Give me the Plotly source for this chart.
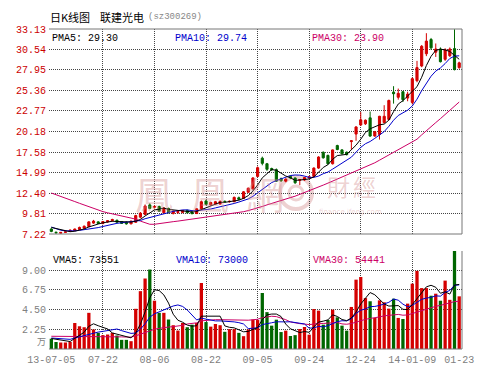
import plotly.graph_objects as go

W, H = 500, 369

# ---------------- data ----------------
tick_idx = [0, 11, 22, 33, 44, 55, 66, 77, 87]
tick_txt = ["13-07-05", "07-22", "08-06", "08-22", "09-05", "09-24", "12-24", "14-01-09", "01-23"]

price_ticks = [7.22, 9.81, 12.40, 14.99, 17.58, 20.18, 22.77, 25.36, 27.95, 30.54, 33.13]
vol_ticks = [2.25, 4.50, 6.75, 9.00]

opens = [7.85, 7.45, 7.32, 7.42, 7.55, 7.65, 7.80, 7.95, 8.15, 8.60,
         8.75, 8.55, 8.75, 8.90, 8.95, 8.80, 8.70, 8.50, 8.70, 9.35,
         9.70, 10.90, 10.60, 10.70, 9.90, 10.45, 9.80, 9.95, 9.95, 10.20,
         10.00, 9.80, 10.40, 11.40, 10.90, 11.00, 11.00, 11.35, 11.30, 11.30,
         11.80, 11.70, 12.50, 12.90, 14.50, 16.80, 16.10, 15.50, 15.35, 14.20,
         13.90, 14.50, 14.30, 14.00, 14.05, 14.30, 14.50, 15.55, 17.55, 17.15,
         16.10, 18.40, 17.85, 17.55, 18.90, 19.85, 21.00, 21.15, 21.90, 19.60,
         19.80, 21.30, 21.70, 25.15, 24.50, 25.20, 24.40, 23.85, 26.60, 28.45,
         30.00, 31.80, 30.20, 30.60, 29.30, 29.75, 30.65, 28.25]
highs = [7.95, 7.50, 7.45, 7.55, 7.80, 7.90, 8.15, 8.30, 8.85, 9.00,
         8.85, 8.85, 8.95, 9.15, 9.05, 8.85, 8.80, 8.90, 9.65, 10.00,
         10.95, 11.10, 10.85, 10.80, 10.60, 10.55, 10.15, 10.10, 10.25, 10.30,
         10.15, 10.50, 11.45, 11.55, 11.30, 11.40, 11.45, 11.45, 11.45, 11.95,
         11.95, 12.65, 13.10, 14.40, 15.75, 17.00, 16.20, 15.60, 15.50, 14.35,
         14.25, 14.60, 14.35, 14.15, 14.45, 14.50, 15.65, 17.05, 17.65, 17.25,
         17.90, 18.50, 17.95, 17.65, 19.10, 20.85, 22.65, 21.70, 22.70, 20.25,
         22.15, 23.50, 24.20, 25.90, 25.60, 25.30, 25.20, 27.00, 29.10, 31.10,
         32.60, 32.00, 31.30, 30.80, 30.70, 30.80, 33.10, 29.00]
lows = [7.45, 7.25, 7.28, 7.38, 7.50, 7.60, 7.75, 7.90, 8.10, 8.50,
        8.50, 8.45, 8.65, 8.80, 8.65, 8.50, 8.40, 8.45, 8.65, 9.20,
        9.60, 10.35, 10.45, 10.00, 9.80, 9.85, 9.70, 9.75, 9.85, 9.85,
        9.70, 9.75, 10.30, 10.85, 10.80, 10.95, 10.95, 11.25, 11.20, 11.25,
        11.50, 11.65, 12.40, 12.85, 14.40, 15.90, 15.20, 15.20, 13.80, 13.80,
        13.75, 14.20, 13.55, 13.40, 13.95, 14.20, 14.40, 15.45, 16.75, 16.00,
        16.00, 17.80, 17.30, 17.15, 17.85, 19.00, 20.90, 21.00, 19.50, 19.50,
        19.15, 21.20, 21.60, 23.70, 24.20, 23.90, 24.00, 23.60, 26.40, 28.30,
        29.70, 30.50, 29.60, 28.90, 29.10, 29.60, 27.90, 28.10]
closes = [7.55, 7.38, 7.42, 7.50, 7.70, 7.85, 8.05, 8.20, 8.75, 8.85,
          8.55, 8.80, 8.90, 9.05, 8.70, 8.55, 8.50, 8.85, 9.55, 9.85,
          10.75, 10.45, 10.70, 10.10, 10.50, 9.90, 10.10, 10.05, 10.20, 9.90,
          9.80, 10.40, 11.30, 10.95, 11.20, 11.30, 11.35, 11.30, 11.35, 11.85,
          11.60, 12.55, 13.00, 14.30, 15.60, 16.15, 15.40, 15.35, 13.90, 13.95,
          14.15, 14.30, 13.70, 14.10, 14.35, 14.45, 15.55, 16.95, 16.85, 16.10,
          17.85, 17.90, 17.35, 17.25, 19.00, 20.75, 21.65, 21.60, 19.60, 20.15,
          22.10, 22.10, 24.10, 24.95, 25.00, 24.20, 24.90, 26.85, 28.25, 30.95,
          31.60, 30.75, 30.60, 29.00, 30.50, 30.60, 28.00, 28.85]

pma5 = [8.05, 7.90, 7.75, 7.60, 7.51, 7.57, 7.70, 7.86, 8.11, 8.34,
        8.48, 8.63, 8.77, 8.83, 8.80, 8.80, 8.74, 8.73, 8.83, 9.06,
        9.50, 9.89, 10.26, 10.37, 10.50, 10.33, 10.26, 10.13, 10.15, 10.03,
        10.01, 10.07, 10.32, 10.47, 10.73, 11.03, 11.22, 11.22, 11.30, 11.43,
        11.49, 11.73, 12.07, 12.66, 13.41, 14.32, 14.89, 15.36, 15.28, 14.95,
        14.55, 14.33, 14.00, 14.04, 14.12, 14.18, 14.43, 15.08, 15.63, 15.98,
        16.66, 17.13, 17.21, 17.29, 17.87, 18.45, 19.20, 20.05, 20.52, 20.75,
        21.02, 21.11, 21.61, 22.68, 23.65, 24.07, 24.63, 25.18, 25.84, 27.03,
        28.51, 29.68, 30.43, 30.58, 30.49, 30.29, 29.74, 29.30]
pma10 = [8.10, 7.85, 7.70, 7.62, 7.60, 7.62, 7.68, 7.75, 7.85, 7.93,
         8.03, 8.17, 8.32, 8.47, 8.57, 8.64, 8.69, 8.75, 8.83, 8.93,
         9.15, 9.32, 9.50, 9.60, 9.78, 9.92, 10.08, 10.20, 10.26, 10.27,
         10.17, 10.17, 10.23, 10.31, 10.38, 10.52, 10.65, 10.77, 10.89, 11.08,
         11.26, 11.48, 11.65, 11.98, 12.42, 12.91, 13.31, 13.72, 13.97, 14.18,
         14.44, 14.61, 14.68, 14.66, 14.54, 14.37, 14.38, 14.54, 14.84, 15.05,
         15.42, 15.78, 16.15, 16.46, 16.93, 17.56, 18.17, 18.63, 18.91, 19.31,
         19.74, 20.16, 20.83, 21.60, 22.20, 22.55, 22.87, 23.40, 24.26, 25.34,
         26.29, 27.16, 27.81, 28.21, 28.76, 29.40, 29.71, 29.74]
pma30 = [12.40, 12.20, 11.98, 11.76, 11.54, 11.32, 11.10, 10.88, 10.66, 10.44,
         10.22, 10.05, 9.90, 9.77, 9.65, 9.52, 9.38, 9.24, 9.10, 8.85,
         8.60, 8.45, 8.45, 8.55, 8.65, 8.72, 8.78, 8.85, 8.93, 9.01,
         9.10, 9.18, 9.27, 9.35, 9.42, 9.49, 9.55, 9.63, 9.72, 9.81,
         9.90, 10.04, 10.18, 10.33, 10.50, 10.70, 10.90, 11.10, 11.30, 11.48,
         11.65, 11.82, 12.00, 12.22, 12.45, 12.67, 12.90, 13.15, 13.40, 13.65,
         13.90, 14.17, 14.45, 14.72, 15.00, 15.22, 15.45, 15.67, 15.90, 16.22,
         16.55, 16.87, 17.20, 17.52, 17.85, 18.17, 18.50, 18.85, 19.20, 19.75,
         20.30, 20.80, 21.30, 21.80, 22.30, 22.83, 23.37, 23.90]

volume = [1.17, 0.80, 0.74, 0.74, 0.80, 2.96, 2.59, 2.48, 4.12, 2.22,
          1.84, 1.58, 1.65, 1.84, 1.54, 1.04, 1.04, 0.89, 4.58, 6.59,
          8.03, 9.05, 5.50, 4.12, 4.12, 3.36, 2.71, 2.10, 2.96, 2.48,
          2.77, 2.96, 7.52, 3.07, 2.55, 2.85, 2.71, 1.96, 2.26, 2.26,
          1.84, 1.46, 2.22, 3.36, 3.30, 6.38, 4.20, 2.66, 3.34, 1.93,
          2.09, 1.48, 1.58, 2.28, 2.51, 1.63, 4.55, 4.37, 2.77, 3.30,
          4.48, 3.61, 2.66, 2.09, 4.79, 7.90, 8.20, 5.80, 5.44, 3.54,
          5.54, 5.32, 4.60, 5.73, 3.54, 3.42, 5.17, 7.44, 8.90, 6.94,
          6.94, 6.07, 6.30, 5.50, 7.79, 5.60, 11.20, 6.00]
vma5 = [1.20, 1.10, 1.00, 0.90, 0.85, 1.21, 1.57, 1.91, 2.59, 2.87,
        2.65, 2.45, 2.28, 1.83, 1.69, 1.53, 1.42, 1.27, 1.82, 2.83,
        4.23, 5.83, 6.75, 6.66, 6.16, 5.23, 3.96, 3.28, 3.05, 2.72,
        2.60, 2.65, 3.74, 3.76, 3.77, 3.79, 3.74, 2.63, 2.47, 2.41,
        2.21, 1.96, 2.01, 2.23, 2.44, 3.34, 3.89, 3.98, 3.98, 3.70,
        2.84, 2.30, 2.08, 1.87, 1.99, 1.90, 2.51, 3.07, 3.17, 3.32,
        3.89, 3.71, 3.36, 3.23, 3.53, 4.21, 5.13, 5.76, 6.43, 6.18,
        5.70, 5.13, 4.89, 4.95, 4.95, 4.52, 4.49, 5.06, 5.69, 6.37,
        7.08, 7.26, 7.03, 6.35, 6.52, 6.25, 7.28, 7.36]
vma10 = [1.25, 1.20, 1.15, 1.10, 1.10, 1.25, 1.40, 1.50, 1.65, 1.86,
         1.93, 2.01, 2.10, 2.21, 2.28, 2.09, 1.94, 1.78, 1.82, 2.26,
         2.88, 3.63, 4.01, 4.24, 4.50, 4.73, 4.90, 5.02, 4.85, 4.44,
         3.92, 3.31, 3.51, 3.41, 3.25, 3.20, 3.20, 3.18, 3.11, 3.09,
         3.00, 2.85, 2.32, 2.35, 2.42, 2.78, 2.92, 2.99, 3.10, 3.07,
         3.09, 3.10, 3.03, 2.92, 2.85, 2.37, 2.41, 2.58, 2.52, 2.66,
         2.90, 3.11, 3.22, 3.20, 3.43, 4.05, 4.42, 4.56, 4.83, 4.85,
         4.96, 5.13, 5.32, 5.69, 5.56, 5.11, 4.81, 4.97, 5.32, 5.66,
         5.80, 5.88, 6.05, 6.02, 6.45, 6.67, 7.27, 7.30]
vma30 = [1.45, 1.45, 1.42, 1.40, 1.38, 1.38, 1.38, 1.37, 1.40, 1.40,
         1.40, 1.40, 1.40, 1.40, 1.40, 1.38, 1.36, 1.35, 1.50, 1.70,
         1.90, 2.10, 2.25, 2.35, 2.45, 2.50, 2.55, 2.60, 2.70, 2.85,
         2.91, 2.98, 3.21, 3.28, 3.34, 3.34, 3.34, 3.33, 3.26, 3.26,
         3.26, 3.26, 3.28, 3.33, 3.39, 3.57, 3.67, 3.73, 3.69, 3.53,
         3.34, 3.08, 2.95, 2.89, 2.84, 2.78, 2.84, 2.92, 2.91, 2.94,
         3.00, 3.02, 2.86, 2.82, 2.90, 3.07, 3.25, 3.38, 3.48, 3.53,
         3.65, 3.78, 3.86, 3.94, 3.94, 3.85, 3.88, 4.04, 4.22, 4.39,
         4.55, 4.70, 4.86, 4.97, 5.14, 5.28, 5.40, 5.44]

# ---------------- styling ----------------
RED = "#d40000"
GREEN = "#006600"
BLUE = "#0000cc"
MAG = "#cc0066"
GRID = "#444444"
BORDER = "#777777"
MONO = "Liberation Mono, DejaVu Sans Mono, monospace"
DASH = "1px,1px"

n = len(closes)
xs = list(range(n))

def px(x):
    return x / W

def py(y):
    return 1 - y / H

XL, XR = 41, 454
P_TOP, P_BOT = 21, 226
V_TOP, V_BOT = 243, 341
vol_top = 9.0 * (V_BOT - V_TOP) / (V_BOT - 262)

fig = go.Figure()

fig.add_trace(go.Candlestick(
    x=xs, open=opens, high=highs, low=lows, close=closes,
    xaxis="x", yaxis="y",
    increasing=dict(line=dict(color=RED, width=1), fillcolor=RED),
    decreasing=dict(line=dict(color=GREEN, width=1), fillcolor=GREEN),
    whiskerwidth=0, showlegend=False, hoverinfo="skip"))

for vals, col in [(pma30, MAG), (pma10, BLUE), (pma5, "#000000")]:
    fig.add_trace(go.Scatter(x=xs, y=vals, mode="lines", xaxis="x", yaxis="y",
                             line=dict(color=col, width=1), showlegend=False,
                             hoverinfo="skip"))

vcolors = [RED if c >= o else GREEN for o, c in zip(opens, closes)]
fig.add_trace(go.Bar(x=xs, y=volume, xaxis="x2", yaxis="y2",
                     marker=dict(color=vcolors, line=dict(width=0)),
                     showlegend=False, hoverinfo="skip"))
for vals, col in [(vma30, MAG), (vma10, BLUE), (vma5, "#000000")]:
    fig.add_trace(go.Scatter(x=xs, y=vals, mode="lines", xaxis="x2", yaxis="y2",
                             line=dict(color=col, width=1), showlegend=False,
                             hoverinfo="skip"))

fig.add_trace(go.Scatter(x=[None], y=[None], xaxis="x3", yaxis="y2",
                         showlegend=False, hoverinfo="skip"))

xr = [-0.5, 87.6]
grid_x = tick_idx[1:-1]
common_x = dict(range=xr, showline=False, zeroline=False, fixedrange=True)

fig.update_layout(
    width=W, height=H, margin=dict(l=0, r=0, t=0, b=0),
    paper_bgcolor="white", plot_bgcolor="rgba(0,0,0,0)",
    bargap=0.3, boxgap=0.35,
    xaxis=dict(domain=[px(XL), px(XR)], anchor="y", tickvals=grid_x,
               showticklabels=False, ticks="", showgrid=True, gridcolor=GRID,
               griddash=DASH, gridwidth=1, rangeslider=dict(visible=False),
               **common_x),
    yaxis=dict(domain=[py(P_BOT), py(P_TOP)], anchor="x", range=[7.22, 33.13],
               tickvals=price_ticks, ticktext=["%.2f" % v for v in price_ticks],
               showgrid=True, gridcolor=GRID, griddash=DASH, gridwidth=1,
               zeroline=False, showline=False, ticks="",
               tickfont=dict(family=MONO, size=10, color="#cc0000"),
               ticklabelstandoff=2, automargin=False),
    xaxis2=dict(domain=[px(XL), px(XR)], anchor="y2", tickvals=grid_x,
                showticklabels=False, ticks="", showgrid=True, gridcolor=GRID,
                griddash=DASH, gridwidth=1, **common_x),
    yaxis2=dict(domain=[py(V_BOT), py(V_TOP)], anchor="x2", range=[0, vol_top],
                tickvals=vol_ticks, ticktext=["%.2f" % v for v in vol_ticks],
                showgrid=True, gridcolor=GRID, griddash=DASH, gridwidth=1,
                zeroline=False, showline=False, ticks="",
                tickfont=dict(family=MONO, size=10, color="#808080"),
                ticklabelstandoff=2, automargin=False),
    xaxis3=dict(domain=[px(XL), px(XR)], anchor="y2", overlaying="x2",
                tickvals=tick_idx, ticktext=tick_txt, showgrid=False, ticks="",
                tickfont=dict(family=MONO, size=10, color="#808080"),
                ticklabelstandoff=3, automargin=False, **common_x),
)

line = dict(color=BORDER, width=1)
WMC = "rgba(210,140,140,0.4)"
shapes = [
    dict(type="line", xref="paper", yref="paper", x0=px(XL), x1=px(XR),
         y0=py(P_TOP), y1=py(P_TOP), line=line),
    dict(type="line", xref="paper", yref="paper", x0=px(XL), x1=px(XR),
         y0=py(P_BOT), y1=py(P_BOT), line=line),
    dict(type="line", xref="paper", yref="paper", x0=px(XR), x1=px(XR),
         y0=py(P_BOT), y1=py(P_TOP), line=line),
    dict(type="line", xref="paper", yref="paper", x0=px(XL), x1=px(XR),
         y0=py(V_BOT), y1=py(V_BOT), line=line),
    dict(type="line", xref="paper", yref="paper", x0=px(XR), x1=px(XR),
         y0=py(V_BOT), y1=py(V_TOP), line=line),
    # watermark logo ring
    dict(type="circle", xref="paper", yref="paper", layer="below",
         x0=px(272), x1=px(304), y0=py(201), y1=py(169),
         line=dict(color=WMC, width=4)),
    dict(type="circle", xref="paper", yref="paper", layer="below",
         x0=px(281), x1=px(295), y0=py(192), y1=py(178),
         line=dict(color=WMC, width=3)),
]
fig.update_layout(shapes=shapes)

def txt(x, y, s, color, size=10, family=MONO, xanchor="left", opacity=1.0):
    fig.add_annotation(x=px(x), y=py(y), xref="paper", yref="paper", text=s,
                       showarrow=False, xanchor=xanchor, yanchor="middle",
                       font=dict(family=family, size=size, color=color),
                       opacity=opacity, borderpad=0)

CJK = "Noto Sans CJK SC"
# watermark (drawn first so other texts sit above)
WM = "rgba(210,140,140,0.4)"
for ch, cx in [("鳳", 146), ("凰", 202), ("網", 257)]:
    txt(cx, 185, ch, WM, size=38, family="Noto Sans CJK TC", xanchor="center")
txt(330, 178, "財", WM, size=23, family="Noto Sans CJK TC", xanchor="center")
txt(356, 178, "經", WM, size=23, family="Noto Sans CJK TC", xanchor="center")
txt(342, 204, "finance.ifeng.com", WM, size=7, family="DejaVu Sans", xanchor="center")

# title
txt(41, 9, "日K线图", "#000000", size=11, family=CJK)
txt(91, 9, "联建光电", "#000000", size=11, family=CJK)
txt(139, 9, "(sz300269)", "#888888", size=9)

# MA legends
txt(43, 30, "PMA5: 29.30", "#000000")
txt(166, 30, "PMA10: 29.74", BLUE)
txt(303, 30, "PMA30: 23.90", MAG)
txt(44, 252, "VMA5: 73551", "#000000")
txt(167, 252, "VMA10: 73000", BLUE)
txt(304, 252, "VMA30: 54441", MAG)
txt(39, 333, "万", "#808080", size=9, family=CJK, xanchor="right")

fig.write_html("out.html")
